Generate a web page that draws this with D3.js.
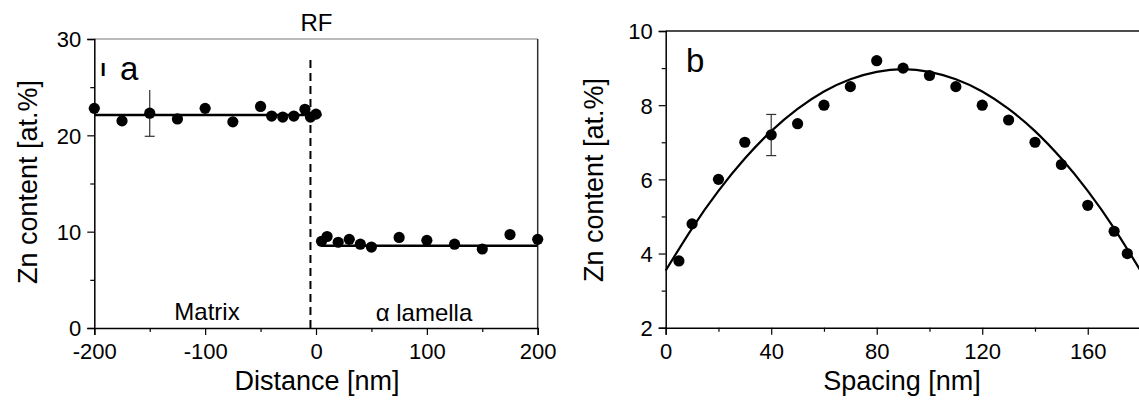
<!DOCTYPE html>
<html>
<head>
<meta charset="utf-8">
<script src="https://cdn.jsdelivr.net/npm/d3@7"></script>
<style>
  html, body { margin: 0; padding: 0; background: #fff; }
  svg { display: block; font-family: "Liberation Sans", Arial, sans-serif; }
</style>
</head>
<body>
<div id="chart"></div>
<script>
// ── Panel a: Zn content across the reaction front ─────────────
const matrixX = [-200, -175, -150, -125, -100, -75, -50, -40, -30, -20, -10, -5, 0];
const matrixY = [22.8, 21.5, 22.3, 21.7, 22.8, 21.4, 23.0, 22.0, 21.9, 22.0, 22.7, 21.9, 22.2];
const lamellaX = [5, 10, 20, 30, 40, 50, 75, 100, 125, 150, 175, 200];
const lamellaY = [9.0, 9.5, 8.9, 9.2, 8.7, 8.4, 9.4, 9.1, 8.7, 8.2, 9.7, 9.2];
const matrixFit = [[-200, 22.1], [5, 22.1]];
const lamellaFit = [[5, 8.55], [200, 8.55]];
const rfPosition = -5;
const errA = { x: -150, lo: 19.9, hi: 24.7 };
const aXTicks = [-200, -100, 0, 100, 200];
const aXMinor = [-150, -50, 50, 150];
const aYTicks = [0, 10, 20, 30];
const aYMinor = [5, 15, 25];

// ── Panel b: Zn content vs lamellar spacing ──────────────────
const spacingX = [5, 10, 20, 30, 40, 50, 60, 70, 80, 90, 100, 110, 120, 130, 140, 150, 160, 170, 175];
const spacingY = [3.8, 4.8, 6.0, 7.0, 7.2, 7.5, 8.0, 8.5, 9.2, 9.0, 8.8, 8.5, 8.0, 7.6, 7.0, 6.4, 5.3, 4.6, 4.0];
const fitX = [0, 10, 20, 30, 40, 50, 60, 70, 80, 90, 100, 110, 120, 130, 140, 150, 160, 170, 180];
const fitY = [3.54, 4.68, 5.69, 6.56, 7.3, 7.9, 8.37, 8.7, 8.9, 8.97, 8.9, 8.7, 8.37, 7.9, 7.3, 6.56, 5.69, 4.68, 3.54];
const errB = { x: 40, lo: 6.64, hi: 7.75 };
const bXTicks = [0, 40, 80, 120, 160];
const bXMinor = [20, 60, 100, 140];
const bYTicks = [2, 4, 6, 8, 10];
const bYMinor = [3, 5, 7, 9];

const W = 1139, H = 400;
const TICK_FONT = 22, TITLE_FONT = 27, LABEL_FONT = 24, PANEL_FONT = 33;
const R = 5.6;
const fmt = d => String(d);   // plain hyphen minus, like the original

const svg = d3.select('#chart').append('svg')
  .attr('width', W).attr('height', H);

// helper: draw axes with major + minor ticks
function drawAxes(g, x, y, o) {
  const [x0, x1] = x.range();
  const [y0, y1] = y.range();
  // frame (top / right)
  g.append('line').attr('x1', x0).attr('x2', x1).attr('y1', y1).attr('y2', y1)
    .attr('stroke', o.topColor).attr('stroke-width', o.topWidth);
  if (o.rightFrame) {
    g.append('line').attr('x1', x1).attr('x2', x1).attr('y1', y0).attr('y2', y1)
      .attr('stroke', '#333').attr('stroke-width', 1.5);
  }
  const xAxis = g.append('g').attr('transform', `translate(0,${y0})`)
    .call(d3.axisBottom(x).tickValues(o.xTicks).tickSize(7).tickPadding(7.5).tickFormat(fmt));
  g.append('g').attr('transform', `translate(0,${y0})`)
    .call(d3.axisBottom(x).tickValues(o.xMinor).tickSize(4).tickFormat(''))
    .call(a => a.select('.domain').remove());
  const yAxis = g.append('g').attr('transform', `translate(${x0},0)`)
    .call(d3.axisLeft(y).tickValues(o.yTicks).tickSize(7).tickPadding(6).tickFormat(fmt));
  g.append('g').attr('transform', `translate(${x0},0)`)
    .call(d3.axisLeft(y).tickValues(o.yMinor).tickSize(4).tickFormat(''))
    .call(a => a.select('.domain').remove());
  g.selectAll('.domain').attr('stroke', '#000').attr('stroke-width', 1.5);
  g.selectAll('.tick line').attr('stroke', '#000').attr('stroke-width', 1.2);
  [xAxis, yAxis].forEach(a => a.selectAll('text')
    .attr('font-size', TICK_FONT).attr('fill', '#000')
    .attr('font-family', '"Liberation Sans", Arial, sans-serif'));
  yAxis.selectAll('text').attr('dy', '0.36em');
  xAxis.selectAll('text').attr('dy', '0.75em');
}

function dots(g, xs, ys, x, y) {
  g.selectAll(null).data(xs.map((v, i) => [v, ys[i]])).join('circle')
    .attr('cx', d => x(d[0])).attr('cy', d => y(d[1])).attr('r', R).attr('fill', '#000');
}

function errorBar(g, e, x, y, capLow, capHigh) {
  const cx = x(e.x);
  g.append('line').attr('x1', cx).attr('x2', cx).attr('y1', y(e.lo)).attr('y2', y(e.hi))
    .attr('stroke', '#333').attr('stroke-width', 1.2);
  if (capLow) g.append('line').attr('x1', cx - 5).attr('x2', cx + 5)
    .attr('y1', y(e.lo)).attr('y2', y(e.lo)).attr('stroke', '#333').attr('stroke-width', 1.2);
  if (capHigh) g.append('line').attr('x1', cx - 5).attr('x2', cx + 5)
    .attr('y1', y(e.hi)).attr('y2', y(e.hi)).attr('stroke', '#333').attr('stroke-width', 1.2);
}

// ── Panel a ───────────────────────────────────────────────────
const xa = d3.scaleLinear().domain([-200, 200]).range([94.3, 537.7]);
const ya = d3.scaleLinear().domain([0, 30]).range([328, 39]);
const ga = svg.append('g');

drawAxes(ga, xa, ya, { xTicks: aXTicks, xMinor: aXMinor, yTicks: aYTicks, yMinor: aYMinor,
  topColor: '#777', topWidth: 1.2, rightFrame: true });

ga.append('line')
  .attr('x1', xa(rfPosition)).attr('x2', xa(rfPosition))
  .attr('y1', ya(0)).attr('y2', 58)
  .attr('stroke', '#000').attr('stroke-width', 2).attr('stroke-dasharray', '8,5');

const line = d3.line().x(d => xa(d[0])).y(d => ya(d[1]));
[matrixFit, lamellaFit].forEach(f => ga.append('path').attr('d', line(f))
  .attr('fill', 'none').attr('stroke', '#000').attr('stroke-width', 2.5));

errorBar(ga, errA, xa, ya, true, false);
dots(ga, matrixX, matrixY, xa, ya);
dots(ga, lamellaX, lamellaY, xa, ya);

ga.append('text').attr('x', xa(rfPosition) + 6).attr('y', 31).attr('text-anchor', 'middle')
  .attr('font-size', LABEL_FONT).text('RF');
ga.append('text').attr('x', 207).attr('y', 320).attr('text-anchor', 'middle')
  .attr('font-size', LABEL_FONT).text('Matrix');
ga.append('text').attr('x', 424).attr('y', 321).attr('text-anchor', 'middle')
  .attr('font-size', LABEL_FONT).text('α lamella');
ga.append('text').attr('x', 100.5).attr('y', 75.5)
  .attr('font-size', 19).attr('font-weight', 'bold').text('I');
ga.append('text').attr('x', 120).attr('y', 80)
  .attr('font-size', PANEL_FONT).text('a');
ga.append('text').attr('x', 317).attr('y', 390).attr('text-anchor', 'middle')
  .attr('font-size', TITLE_FONT).text('Distance [nm]');
ga.append('text').attr('transform', 'translate(37,182) rotate(-90)')
  .attr('text-anchor', 'middle').attr('font-size', TITLE_FONT).text('Zn content [at.%]');

// ── Panel b ───────────────────────────────────────────────────
const xb = d3.scaleLinear().domain([0, 180]).range([665.7, 1140.5]);
const yb = d3.scaleLinear().domain([2, 10]).range([327.7, 31]);
const gb = svg.append('g');

drawAxes(gb, xb, yb, { xTicks: bXTicks, xMinor: bXMinor, yTicks: bYTicks, yMinor: bYMinor,
  topColor: '#111', topWidth: 1.5, rightFrame: false });

gb.append('path')
  .attr('d', d3.line().curve(d3.curveNatural)
    .x(d => xb(d[0])).y(d => yb(d[1]))(fitX.map((v, i) => [v, fitY[i]])))
  .attr('fill', 'none').attr('stroke', '#000').attr('stroke-width', 2.2);

errorBar(gb, errB, xb, yb, true, true);
dots(gb, spacingX, spacingY, xb, yb);

gb.append('text').attr('x', 686).attr('y', 72)
  .attr('font-size', PANEL_FONT).text('b');
gb.append('text').attr('x', 902).attr('y', 390).attr('text-anchor', 'middle')
  .attr('font-size', TITLE_FONT).text('Spacing [nm]');
gb.append('text').attr('transform', 'translate(603,180) rotate(-90)')
  .attr('text-anchor', 'middle').attr('font-size', TITLE_FONT).text('Zn content [at.%]');
</script>
</body>
</html>
